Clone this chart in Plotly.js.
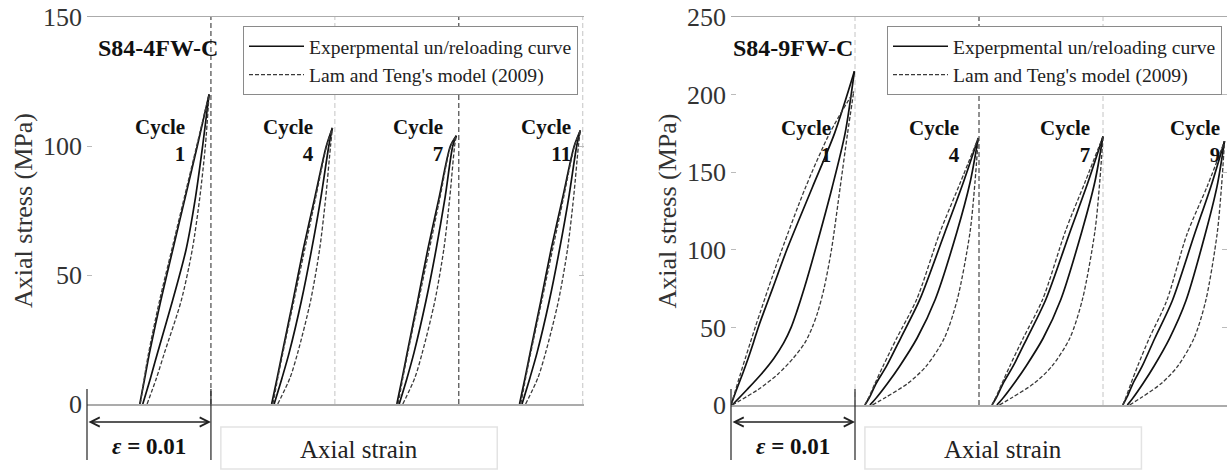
<!DOCTYPE html>
<html><head><meta charset="utf-8">
<script src="https://cdn.plot.ly/plotly-3.0.1.min.js"></script>
<style>html,body{margin:0;padding:0;background:#fff}#chart{width:1227px;height:473px}</style>
</head><body><div id="chart"></div>
<script>
// Strain in units of 1e-3 (each cycle drawn at its own offset), stress in MPa
// ---- Left panel: S84-4FW-C ----
const L_c1_stress    = [0, 10, 20, 40, 60, 80, 100, 120];
const L_c1_expLoad   = [4.26, 4.66, 5.05, 5.95, 6.93, 7.92, 8.9, 9.85];
const L_c1_expUnload = [4.5, 5.12, 5.7, 6.9, 8.0, 8.75, 9.33, 9.85];
const L_c1_modLoad   = [4.3, 4.62, 4.98, 5.85, 6.85, 7.85, 8.85, 9.85];
const L_c1_modUnload = [4.85, 5.6, 6.26, 7.6, 8.5, 9.1, 9.55, 9.85];

const L_c4_stress    = [0, 10, 20, 40, 60, 80, 100, 107];
const L_c4_expLoad   = [14.9, 15.34, 15.76, 16.62, 17.45, 18.38, 19.31, 19.8];
const L_c4_expUnload = [15.1, 15.73, 16.32, 17.3, 18.13, 18.87, 19.51, 19.8];
const L_c4_modLoad   = [15.0, 15.39, 15.81, 16.69, 17.57, 18.45, 19.33, 19.8];
const L_c4_modUnload = [15.39, 16.37, 17.01, 18.04, 18.77, 19.26, 19.65, 19.8];

const L_c7_stress    = [0, 10, 20, 40, 60, 80, 100, 104];
const L_c7_expLoad   = [25.0, 25.43, 25.84, 26.68, 27.5, 28.41, 29.32, 29.8];
const L_c7_expUnload = [25.19, 25.82, 26.39, 27.35, 28.17, 28.89, 29.51, 29.8];
const L_c7_modLoad   = [25.1, 25.48, 25.89, 26.75, 27.62, 28.48, 29.34, 29.8];
const L_c7_modUnload = [25.48, 26.44, 27.06, 28.07, 28.79, 29.27, 29.66, 29.8];

const L_c11_stress    = [0, 10, 20, 40, 60, 80, 100, 106];
const L_c11_expLoad   = [34.9, 35.34, 35.76, 36.62, 37.45, 38.38, 39.31, 39.8];
const L_c11_expUnload = [35.1, 35.73, 36.32, 37.3, 38.13, 38.87, 39.51, 39.8];
const L_c11_modLoad   = [35.0, 35.39, 35.81, 36.69, 37.57, 38.45, 39.33, 39.8];
const L_c11_modUnload = [35.39, 36.37, 37.01, 38.04, 38.77, 39.26, 39.65, 39.8];

// ---- Right panel: S84-9FW-C ----
const R_c1_expStress = [0, 10, 20, 30, 40, 50, 60, 75, 100, 140, 175, 215];
const R_c1_modStress = [0, 10, 20, 30, 40, 50, 60, 75, 100, 140, 175, 202];
const R_c1_expLoad   = [0, 0.45, 0.93, 1.38, 1.8, 2.2, 2.65, 3.35, 4.5, 6.55, 8.35, 9.95];
const R_c1_expUnload = [0.1, 1.3, 2.45, 3.45, 4.25, 4.85, 5.3, 5.9, 6.8, 8.15, 9.2, 9.95];
const R_c1_modLoad   = [0, 0.38, 0.76, 1.15, 1.55, 1.95, 2.37, 3.0, 4.1, 6.0, 7.95, 9.9];
const R_c1_modUnload = [0.1, 2.2, 3.8, 5.0, 5.95, 6.55, 7.0, 7.5, 8.1, 8.8, 9.4, 9.9];

const R_c4_stress    = [0, 5, 14, 25, 43, 68, 111, 143, 172];
const R_c4_expLoad   = [10.8, 11.17, 11.71, 12.54, 13.68, 15.23, 17.24, 18.72, 19.94];
const R_c4_expUnload = [11.2, 11.76, 12.63, 13.6, 15.0, 16.47, 18.2, 19.27, 19.94];
const R_c4_modLoad   = [10.8, 11.12, 11.62, 12.26, 13.36, 14.97, 16.84, 18.48, 19.94];
const R_c4_modUnload = [11.4, 12.5, 14.27, 15.74, 17.2, 18.25, 19.27, 19.67, 19.94];

const R_c7_stress    = [0, 5, 14, 25, 43, 68, 112, 144, 173];
const R_c7_expLoad   = [21.05, 21.41, 21.95, 22.75, 23.87, 25.39, 27.36, 28.81, 30.0];
const R_c7_expUnload = [21.44, 21.99, 22.84, 23.79, 25.17, 26.6, 28.3, 29.35, 30.0];
const R_c7_modLoad   = [21.05, 21.36, 21.86, 22.48, 23.56, 25.13, 26.97, 28.57, 30.0];
const R_c7_modUnload = [21.64, 22.71, 24.45, 25.88, 27.32, 28.34, 29.35, 29.74, 30.0];

const R_c9_stress    = [0, 5, 14, 25, 43, 67, 110, 141, 170];
const R_c9_expLoad   = [31.6, 31.93, 32.42, 33.16, 34.18, 35.58, 37.38, 38.71, 39.8];
const R_c9_expUnload = [31.96, 32.46, 33.24, 34.11, 35.37, 36.68, 38.24, 39.2, 39.8];
const R_c9_modLoad   = [31.6, 31.85, 32.26, 32.79, 33.73, 35.13, 36.77, 38.41, 39.8];
const R_c9_modUnload = [32.14, 33.13, 34.72, 36.03, 37.34, 38.28, 39.2, 39.56, 39.8];

// ---- labels ----
const panelTitles = ['S84-4FW-C', 'S84-9FW-C'];
const leftCycles  = ['1', '4', '7', '11'];
const rightCycles = ['1', '4', '7', '9'];
const leftYTicks  = [0, 50, 100, 150];
const rightYTicks = [0, 50, 100, 150, 200, 250];
const legendNames = ['Experpmental un/reloading curve', "Lam and Teng's model (2009)"];
const yTitle = 'Axial stress (MPa)';
const xTitle = 'Axial strain';
const strainRef = '<b><i>ε</i> = 0.01</b>';

const FONT = '"Liberation Serif", "Times New Roman", serif';
const W = 1227, H = 473;

const leftSets = [
  [L_c1_stress, L_c1_stress, L_c1_expLoad, L_c1_expUnload, L_c1_modLoad, L_c1_modUnload],
  [L_c4_stress, L_c4_stress, L_c4_expLoad, L_c4_expUnload, L_c4_modLoad, L_c4_modUnload],
  [L_c7_stress, L_c7_stress, L_c7_expLoad, L_c7_expUnload, L_c7_modLoad, L_c7_modUnload],
  [L_c11_stress, L_c11_stress, L_c11_expLoad, L_c11_expUnload, L_c11_modLoad, L_c11_modUnload]
];
const rightSets = [
  [R_c1_expStress, R_c1_modStress, R_c1_expLoad, R_c1_expUnload, R_c1_modLoad, R_c1_modUnload],
  [R_c4_stress, R_c4_stress, R_c4_expLoad, R_c4_expUnload, R_c4_modLoad, R_c4_modUnload],
  [R_c7_stress, R_c7_stress, R_c7_expLoad, R_c7_expUnload, R_c7_modLoad, R_c7_modUnload],
  [R_c9_stress, R_c9_stress, R_c9_expLoad, R_c9_expUnload, R_c9_modLoad, R_c9_modUnload]
];

const expLine = {color: '#111', width: 1.7, shape: 'spline', smoothing: 0.8};
const modLine = {color: '#3a3a3a', width: 1.3, dash: '4px,2px', shape: 'spline', smoothing: 0.8};

const traces = [];
function addPanel(sets, xa, ya, legendId) {
  sets.forEach((s, i) => {
    const [es, ms, eL, eU, mL, mU] = s;
    traces.push({x: eL, y: es, xaxis: xa, yaxis: ya, mode: 'lines', line: expLine,
      name: legendNames[0], legend: legendId, showlegend: i === 0});
    traces.push({x: eU, y: es, xaxis: xa, yaxis: ya, mode: 'lines', line: expLine,
      name: legendNames[0], legend: legendId, showlegend: false});
    traces.push({x: mL, y: ms, xaxis: xa, yaxis: ya, mode: 'lines', line: modLine,
      name: legendNames[1], legend: legendId, showlegend: i === 0});
    traces.push({x: mU, y: ms, xaxis: xa, yaxis: ya, mode: 'lines', line: modLine,
      name: legendNames[1], legend: legendId, showlegend: false});
  });
}
addPanel(leftSets, 'x', 'y', 'legend');
addPanel(rightSets, 'x2', 'y2', 'legend2');

const xDomL = [87 / W, 584 / W], xRangeL = [0, 40.1];
const xDomR = [731 / W, 1.0],   xRangeR = [0, 40];
const yDomL = [(H - 404) / H, (H - 17) / H];
const yDomR = [(H - 405) / H, (H - 17) / H];
const pyOf = px => (H - px) / H;
function xp(dom, rng, v) { return dom[0] + (v - rng[0]) / (rng[1] - rng[0]) * (dom[1] - dom[0]); }

function xAxis(dom, rng, anchor) {
  return {domain: dom, range: rng, anchor: anchor, showline: true, mirror: true,
    linecolor: '#ababab', linewidth: 1.5, showgrid: false, zeroline: false,
    showticklabels: false, ticks: '', fixedrange: true};
}
function yAxis(dom, rng, vals, anchor) {
  return {domain: dom, range: rng, anchor: anchor, tickvals: vals, ticks: 'inside', ticklen: 5,
    tickcolor: '#bbb', tickwidth: 1, mirror: 'ticks', showline: false, showgrid: false, zeroline: false,
    ticklabelstandoff: 4,
    tickfont: {family: FONT, size: 26, color: '#333'},
    title: {text: yTitle, font: {family: FONT, size: 26, color: '#333'}, standoff: 2}, fixedrange: true};
}

const shapes = [];
const leftV = [[10, '#222'], [20, '#c4c4c4'], [30, '#222'], [40, '#c4c4c4']];
const rightV = [[10, '#c4c4c4'], [20, '#222'], [30, '#c4c4c4']];
leftV.forEach(([v, c]) => shapes.push({type: 'line', xref: 'x', yref: 'y', x0: v, x1: v, y0: 0, y1: 150,
  line: {color: c, width: 1, dash: '5px,3px'}, layer: 'below'}));
rightV.forEach(([v, c]) => shapes.push({type: 'line', xref: 'x2', yref: 'y2', x0: v, x1: v, y0: 0, y1: 250,
  line: {color: c, width: 1, dash: '5px,3px'}, layer: 'below'}));

const annotations = [];
function addBracket(dom, rng, xa) {
  [0, 10].forEach(v => shapes.push({type: 'line', xref: 'paper', yref: 'paper',
    x0: xp(dom, rng, v), x1: xp(dom, rng, v), y0: pyOf(460), y1: pyOf(389),
    line: {color: '#222', width: 1.2}}));
  shapes.push({type: 'rect', xref: 'paper', yref: 'paper',
    x0: xp(dom, rng, 10.8), x1: xp(dom, rng, 33.1), y0: pyOf(469), y1: pyOf(427),
    line: {color: '#e3e3e3', width: 1.5}, fillcolor: 'rgba(0,0,0,0)'});
  annotations.push({xref: xa, yref: 'paper', x: 10, y: pyOf(422), axref: xa, ax: 0, ayref: 'pixel', ay: 0,
    text: '', showarrow: true, arrowside: 'end+start', arrowhead: 5, arrowsize: 1.4, arrowwidth: 1.3, arrowcolor: '#222',
    standoff: 0, startstandoff: 0});
  annotations.push({xref: xa, yref: 'paper', x: 5, y: pyOf(446), text: strainRef, showarrow: false,
    font: {family: FONT, size: 23, color: '#111'}, xanchor: 'center', yanchor: 'middle'});
  annotations.push({xref: xa, yref: 'paper', x: 21.95, y: pyOf(449), text: xTitle, showarrow: false,
    font: {family: FONT, size: 25, color: '#222'}, xanchor: 'center', yanchor: 'middle'});
}
addBracket(xDomL, xRangeL, 'x');
addBracket(xDomR, xRangeR, 'x2');

annotations.push({xref: 'x', yref: 'y', x: 10.73, y: 138, text: '<b>' + panelTitles[0] + '</b>', showarrow: false,
  xanchor: 'right', yanchor: 'middle', font: {family: FONT, size: 24, color: '#111'}});
annotations.push({xref: 'x2', yref: 'y2', x: 10.0, y: 230, text: '<b>' + panelTitles[1] + '</b>', showarrow: false,
  xanchor: 'right', yanchor: 'middle', font: {family: FONT, size: 24, color: '#111'}});

const leftCycX = [8.03, 18.47, 28.9, 39.2];
const rightCycX = [8.2, 18.6, 29.1, 39.6];
leftCycles.forEach((c, i) => annotations.push({xref: 'x', yref: 'y', x: leftCycX[i], y: 102,
  text: '<b>Cycle</b><br><b>' + c + '</b>', align: 'right', showarrow: false, xanchor: 'right', yanchor: 'middle',
  font: {family: FONT, size: 21, color: '#111'}}));
rightCycles.forEach((c, i) => annotations.push({xref: 'x2', yref: 'y2', x: rightCycX[i], y: 170,
  text: '<b>Cycle</b><br><b>' + c + '</b>', align: 'right', showarrow: false, xanchor: 'right', yanchor: 'middle',
  font: {family: FONT, size: 21, color: '#111'}}));

const legendStyle = (x) => ({x: x, y: pyOf(26), xanchor: 'left', yanchor: 'top', bgcolor: '#fff',
  bordercolor: '#8a8a8a', borderwidth: 1, itemwidth: 55, font: {family: FONT, size: 19.6, color: '#222'},
  traceorder: 'normal'});

const layout = {
  width: W, height: H, margin: {l: 0, r: 0, t: 0, b: 0}, paper_bgcolor: '#fff', plot_bgcolor: '#fff',
  showlegend: true, hovermode: false,
  xaxis: xAxis(xDomL, xRangeL, 'y'),
  yaxis: yAxis(yDomL, [0, 150], leftYTicks, 'x'),
  xaxis2: xAxis(xDomR, xRangeR, 'y2'),
  yaxis2: yAxis(yDomR, [0, 250], rightYTicks, 'x2'),
  legend: legendStyle(243 / W),
  legend2: legendStyle(887 / W),
  shapes: shapes, annotations: annotations
};
Plotly.newPlot('chart', traces, layout, {staticPlot: true, displayModeBar: false});
</script></body></html>
